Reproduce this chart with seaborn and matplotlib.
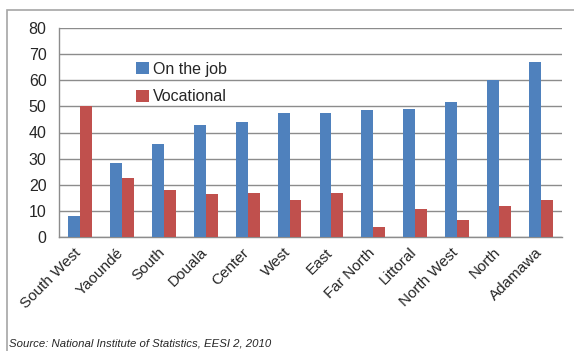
import matplotlib
matplotlib.use("Agg")
import matplotlib.pyplot as plt
import matplotlib.patches as patches
import matplotlib.transforms as mtransforms
import numpy as np
import pandas as pd
import seaborn as sns

regions = ["South West", "Yaoundé", "South", "Douala", "Center", "West", "East",
           "Far North", "Littoral", "North West", "North", "Adamawa"]
on_the_job = [8, 28.5, 35.7, 43, 44, 47.5, 47.5, 48.5, 49, 51.6, 60.2, 67]
vocational = [50.2, 22.5, 18, 16.5, 17, 14.2, 17, 3.8, 10.7, 6.5, 12, 14.2]
series = ["On the job", "Vocational"]
yticks = list(range(0, 81, 10))

df = pd.DataFrame({
    "region": regions * 2,
    "value": on_the_job + vocational,
    "type": [series[0]] * len(regions) + [series[1]] * len(regions),
})

sns.set_style("white")
plt.rcParams["font.family"] = ["Liberation Sans", "DejaVu Sans"]

fig = plt.figure(figsize=(5.74, 3.51), dpi=100)
ax = fig.add_axes([59 / 574, 1 - 237 / 351, 503 / 574, 209 / 351])

sns.barplot(data=df, x="region", y="value", hue="type", order=regions,
            hue_order=series, palette=["#4f81bd", "#c0504d"], width=0.57,
            saturation=1, ax=ax, edgecolor="none", zorder=3)

ax.set_ylim(0, 80)
ax.set_xlim(-0.5, len(regions) - 0.5)
ax.set_yticks(yticks)
ax.set_yticklabels([str(t) for t in yticks], fontsize=11.5)
ax.yaxis.grid(True, color="#8c8c8c", linewidth=1)
ax.set_axisbelow(True)
ax.set_xlabel("")
ax.set_ylabel("")

for s in ["top", "right"]:
    ax.spines[s].set_visible(False)
for s in ["left", "bottom"]:
    ax.spines[s].set_color("#8c8c8c")
    ax.spines[s].set_linewidth(1)

ax.set_xticks(range(len(regions)))
ax.set_xticklabels(regions, rotation=45, ha="right", rotation_mode="anchor", fontsize=11)
ax.set_xticks(np.arange(-0.5, len(regions)), minor=True)
ax.tick_params(axis="x", which="major", length=0, pad=6)
ax.tick_params(axis="x", which="minor", length=5, color="#8c8c8c", direction="out")
ax.tick_params(axis="y", length=5, color="#8c8c8c", direction="out", pad=4)

shift = mtransforms.ScaledTranslation(-6 / 100, 0, fig.dpi_scale_trans)
for lab in ax.get_xticklabels():
    lab.set_transform(lab.get_transform() + shift)

leg = ax.legend(loc="upper left", bbox_to_anchor=(0.14, 0.87), frameon=False,
                fontsize=11.5, handlelength=0.8, handleheight=0.8, handletextpad=0.3,
                labelspacing=0.8, borderaxespad=0)

# outer chart border
fig.patches.append(patches.Rectangle((7 / 574, -0.1), 1.1, 1 - 10 / 351 + 0.1,
                                     transform=fig.transFigure, fill=False,
                                     edgecolor="#a6a6a6", linewidth=1.2))

fig.text(9 / 574, 1 - 343 / 351, "Source: National Institute of Statistics, EESI 2, 2010",
         fontsize=8.2, style="italic", va="center", ha="left")

fig.savefig("out.png", dpi=100)
